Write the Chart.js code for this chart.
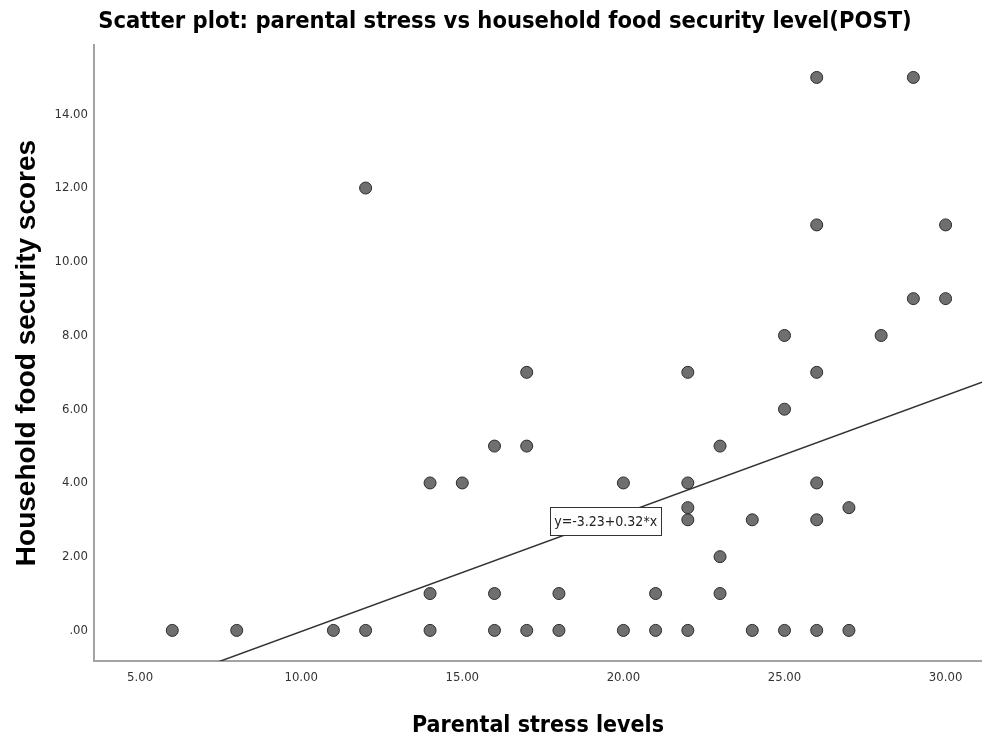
<!DOCTYPE html>
<html>
<head>
<meta charset="utf-8">
<script src="https://cdn.jsdelivr.net/npm/chart.js@4/dist/chart.umd.min.js"></script>
<style>
  html, body { margin: 0; padding: 0; background: #ffffff; }
  #wrap { width: 982px; height: 740px; position: relative; }
</style>
</head>
<body>
<div id="wrap"><canvas id="c" width="982" height="740"></canvas></div>
<script>
// ---- data ----
const titleText = "Scatter plot: parental stress vs household food security level(POST)";
const xAxisTitle = "Parental stress levels";
const yAxisTitle = "Household food security scores";

const stressLevels = [
  6, 8, 11, 12, 14, 16, 17, 18, 20, 21, 22, 24, 25, 26, 27,
  14, 16, 18, 21, 23,
  23,
  22, 24, 26,
  22, 27,
  14, 15, 20, 22, 26,
  16, 17, 23,
  25,
  17, 22, 26,
  25, 28,
  29, 30,
  26, 30,
  12,
  26, 29
];
const foodSecurityScores = [
  0, 0, 0, 0, 0, 0, 0, 0, 0, 0, 0, 0, 0, 0, 0,
  1, 1, 1, 1, 1,
  2,
  3, 3, 3,
  3.33, 3.33,
  4, 4, 4, 4, 4,
  5, 5, 5,
  6,
  7, 7, 7,
  8, 8,
  9, 9,
  11, 11,
  12,
  15, 15
];

const fitIntercept = -3.23;
const fitSlope = 0.32;
const fitLabel = "y=-3.23+0.32*x";
const fitLabelAt = [19.45, 2.96];

const xTicks = [5, 10, 15, 20, 25, 30];
const xTickLabels = ["5.00", "10.00", "15.00", "20.00", "25.00", "30.00"];
const yTicks = [0, 2, 4, 6, 8, 10, 12, 14];
const yTickLabels = [".00", "2.00", "4.00", "6.00", "8.00", "10.00", "12.00", "14.00"];

const xRange = [3.57, 31.13];
const yRange = [-0.83, 15.88];

// ---- chart ----
const narrow = "'Liberation Sans Narrow', 'Arial Narrow', 'DejaVu Sans Condensed', sans-serif";
const wide = "'Liberation Sans', Arial, sans-serif";

const points = stressLevels.map((x, i) => ({ x: x, y: foodSecurityScores[i] }));
const fitLine = xRange.map(x => ({ x: x, y: fitIntercept + fitSlope * x }));

const overlay = {
  id: 'overlay',
  afterDraw(chart) {
    const ctx = chart.ctx;
    const xs = chart.scales.x, ys = chart.scales.y;
    ctx.save();
    // title
    ctx.fillStyle = '#000';
    ctx.font = "bold 23.5px " + narrow;
    ctx.textAlign = 'center';
    ctx.textBaseline = 'middle';
    ctx.fillText(titleText, 505, 22);
    // fit label box
    const px = xs.getPixelForValue(fitLabelAt[0]);
    const py = ys.getPixelForValue(fitLabelAt[1]);
    ctx.font = "14px " + narrow;
    const w = ctx.measureText(fitLabel).width + 8;
    const h = 28;
    const bx = Math.round(px - w / 2) + 0.5, by = Math.round(py - h / 2) + 0.5;
    ctx.fillStyle = '#fff';
    ctx.fillRect(bx, by, Math.round(w), h);
    ctx.strokeStyle = '#333';
    ctx.lineWidth = 1;
    ctx.strokeRect(bx, by, Math.round(w), h);
    ctx.fillStyle = '#222';
    ctx.textAlign = 'center';
    ctx.textBaseline = 'middle';
    ctx.fillText(fitLabel, px, py + 1);
    ctx.restore();
  }
};

new Chart(document.getElementById('c'), {
  data: {
    datasets: [
      {
        type: 'line',
        data: fitLine,
        borderColor: '#333333',
        borderWidth: 1.5,
        pointRadius: 0,
        fill: false,
        order: 2
      },
      {
        type: 'scatter',
        data: points,
        backgroundColor: '#6f6f6f',
        borderColor: '#2b2b2b',
        borderWidth: 1,
        pointRadius: 6,
        pointHoverRadius: 6,
        order: 1
      }
    ]
  },
  options: {
    responsive: false,
    animation: false,
    events: [],
    layout: { autoPadding: false, padding: { top: 45, right: 0, left: 0, bottom: 0 } },
    plugins: {
      legend: { display: false },
      tooltip: { enabled: false },
      title: { display: false }
    },
    scales: {
      x: {
        type: 'linear',
        min: xRange[0],
        max: xRange[1],
        afterBuildTicks(scale) { scale.ticks = xTicks.map(v => ({ value: v })); },
        afterFit(scale) { scale.height = 79; },
        grid: { display: false, drawTicks: false },
        border: { display: true, color: '#a3a3a3', width: 2 },
        ticks: {
          padding: 9,
          color: '#333',
          font: { family: narrow, size: 13 },
          maxRotation: 0,
          callback(v) { const i = xTicks.indexOf(v); return i >= 0 ? xTickLabels[i] : ''; }
        },
        title: {
          display: true,
          text: xAxisTitle,
          color: '#000',
          font: { family: narrow, size: 23, weight: 'bold' },
          padding: { top: 14, bottom: 0 }
        }
      },
      y: {
        type: 'linear',
        min: yRange[0],
        max: yRange[1],
        afterBuildTicks(scale) { scale.ticks = yTicks.map(v => ({ value: v })); },
        afterFit(scale) { scale.width = 94; },
        grid: { display: false, drawTicks: false },
        border: { display: true, color: '#a3a3a3', width: 2 },
        ticks: {
          padding: 6,
          color: '#333',
          font: { family: narrow, size: 13 },
          callback(v) { const i = yTicks.indexOf(v); return i >= 0 ? yTickLabels[i] : ''; }
        },
        title: {
          display: true,
          text: yAxisTitle,
          color: '#000',
          font: { family: wide, size: 28, weight: 'bold' },
          padding: { top: 10, bottom: 0 }
        }
      }
    }
  },
  plugins: [overlay]
});
</script>
</body>
</html>
